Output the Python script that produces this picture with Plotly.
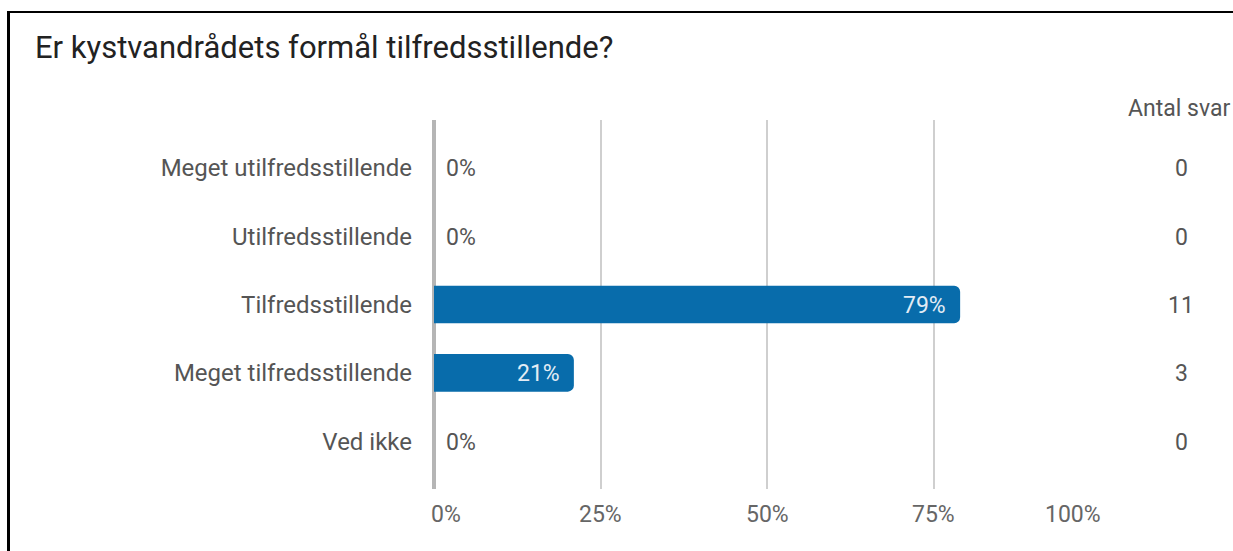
import plotly.graph_objects as go

categories = ["Meget utilfredsstillende", "Utilfredsstillende", "Tilfredsstillende",
              "Meget tilfredsstillende", "Ved ikke"]
percent = [0, 0, 79, 21, 0]
counts = [0, 0, 11, 3, 0]
tick_vals = [0, 25, 50, 75, 100]
tick_text = ["0%", "25%", "50%", "75%", "100%"]
title_text = "Er kystvandrådets formål tilfredsstillende?"
count_header = "Antal svar"

W, H = 1233, 551
ML, MR, MT, MB = 434, 133, 120, 62
PW, PH = W - ML - MR, H - MT - MB
FONT = "Roboto"
FS = 24
BAR_COLOR = "#086cab"
LABEL_COLOR = "#555555"


def px_x(px):
    return (px - ML) / PW


def px_y(py):
    return 1 - (py - MT) / PH


fig = go.Figure()
fig.add_trace(go.Bar(
    y=categories, x=percent, orientation="h",
    marker=dict(color=BAR_COLOR, cornerradius=6, line=dict(width=0)),
    width=0.55, hoverinfo="skip",
))

annotations = []
for cat, p, c in zip(categories, percent, counts):
    if p > 0:
        annotations.append(dict(x=p, y=cat, xref="x", yref="y", text=f"{p}%",
                                showarrow=False, xanchor="right", xshift=-12, yshift=-1,
                                font=dict(family=FONT, size=FS - 1, color="#e3ecf5")))
    else:
        annotations.append(dict(x=0, y=cat, xref="x", yref="y", text=f"{p}%",
                                showarrow=False, xanchor="left", xshift=10, yshift=-1,
                                font=dict(family=FONT, size=FS - 1, color=LABEL_COLOR)))
    annotations.append(dict(x=px_x(1181), y=cat, xref="paper", yref="y", text=str(c),
                            showarrow=False, xanchor="center", yshift=-1,
                            font=dict(family=FONT, size=FS - 1, color=LABEL_COLOR)))
annotations.append(dict(x=px_x(1126), y=px_y(108), xref="paper", yref="paper",
                        text=count_header, showarrow=False, xanchor="left",
                        yanchor="middle",
                        font=dict(family=FONT, size=FS - 1, color=LABEL_COLOR)))

# x tick labels (first left-aligned, last right-aligned, like the source)
n = len(tick_vals)
for i, (tv, tt) in enumerate(zip(tick_vals, tick_text)):
    if i == 0:
        anchor, shift = "left", -5
    elif i == n - 1:
        anchor, shift = "right", 3
    else:
        anchor, shift = "center", 0
    annotations.append(dict(x=tv, y=px_y(514), xref="x", yref="paper", text=tt,
                            showarrow=False, xanchor=anchor, yanchor="middle",
                            xshift=shift,
                            font=dict(family=FONT, size=FS - 1, color="#666666")))

fig.update_layout(
    width=W, height=H,
    margin=dict(l=ML, r=MR, t=MT, b=MB),
    paper_bgcolor="white", plot_bgcolor="white",
    showlegend=False,
    title=dict(text=title_text, x=35 / W, y=1 - 47 / H, xref="container", yref="container",
               xanchor="left", yanchor="middle",
               font=dict(family=FONT, size=31, color="#222222")),
    xaxis=dict(range=[0, 100], tickvals=tick_vals, showticklabels=False,
               showgrid=True, gridcolor="#cfcfcf", gridwidth=2,
               zeroline=True, zerolinecolor="#b5b5b5", zerolinewidth=4,
               showline=False, ticks="", fixedrange=True),
    yaxis=dict(categoryorder="array", categoryarray=categories, autorange=False,
               range=[4.7, -0.7], showgrid=False, zeroline=False, showline=False,
               ticks="", ticklabelstandoff=21,
               tickfont=dict(family=FONT, size=FS, color=LABEL_COLOR), fixedrange=True),
    annotations=annotations,
    shapes=[
        dict(type="line", xref="paper", yref="paper",
             x0=px_x(8.5), x1=px_x(8.5), y0=px_y(11), y1=px_y(H + 5),
             line=dict(color="black", width=3)),
        dict(type="line", xref="paper", yref="paper",
             x0=px_x(7), x1=px_x(W + 5), y0=px_y(12), y1=px_y(12),
             line=dict(color="black", width=2)),
    ],
)

fig.write_html("out.html", config={"displayModeBar": False},
               post_script="document.body.style.margin='0';"
               "document.body.style.overflow='hidden';")
